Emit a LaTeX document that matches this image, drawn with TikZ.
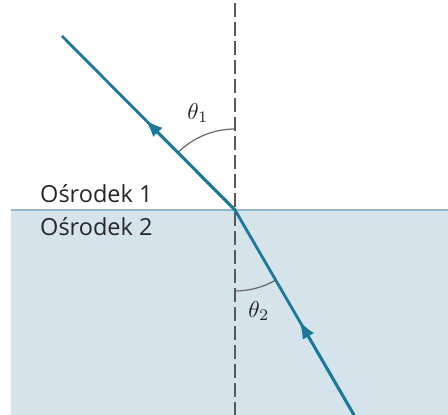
\documentclass[tikz,border=0pt]{standalone}
\usepackage{fontspec}
\setmainfont{Open Sans}
\usetikzlibrary{calc,arrows.meta}
\definecolor{raycol}{RGB}{26,121,155}
\definecolor{lowfill}{RGB}{213,227,235}
\definecolor{facecol}{RGB}{140,186,202}
\tikzstyle{ray} = [line width=2.8pt, raycol]
\tikzstyle{rayarrow} = [ray, -{Latex[length=18pt,width=13pt]}]
\tikzstyle{normalline} = [line width=1.5pt, black!65, dash pattern=on 14pt off 5pt]
\tikzstyle{anglearc} = [line width=1.2pt, black!60]
\tikzstyle{medium} = [anchor=base west, inner sep=0pt, text=black!85, font=\fontsize{23.5}{28}\selectfont]
\tikzstyle{anglelabel} = [inner sep=0pt, text=black!85]

\begin{document}
\begin{tikzpicture}[x=1pt, y=1pt]
\useasboundingbox (0,0) rectangle (448,415);

% lower medium
\fill[lowfill] (11,0) rectangle (448,205);
\draw[facecol, line width=1.5pt] (11,205) -- (448,205);

\coordinate (O) at (235,205);
\coordinate (src) at (62,379);
\coordinate (dst) at (354,0);
\coordinate (ntop) at (235,412);
\coordinate (nbot) at (235,0);
\coordinate (tip1) at ($(O)!0.52!(src)$);
\coordinate (tip2) at ($(dst)!0.46!(O)$);

% normal
\draw[normalline] (ntop) -- (nbot);

% angles
\draw[anglearc] (O) ++(90:81pt) arc (90:135:81pt);
\draw[anglearc] (O) ++(270:81pt) arc (270:300:81pt);
\node (th1) [anglelabel] at (198,302) {\scalebox{2.3}{$\theta_1$}};
\node (th2) [anglelabel] at (259,104) {\scalebox{2.3}{$\theta_2$}};

% rays
\draw[ray] (dst) -- (O) -- (src);
\draw[rayarrow] (dst) -- (tip2);
\draw[rayarrow] (O) -- (tip1);

\node (m1) [medium] at (40,212) {Ośrodek 1};
\node (m2) [medium] at (40,179) {Ośrodek 2};

\end{tikzpicture}
\end{document}
